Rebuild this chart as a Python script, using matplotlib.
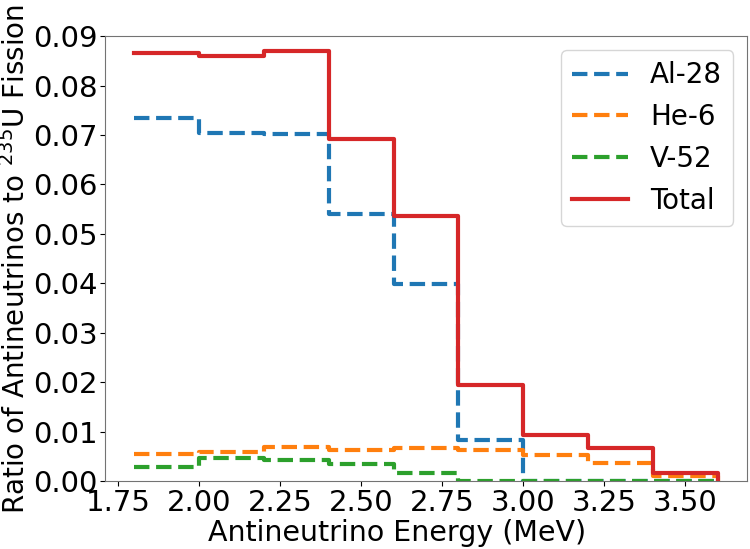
import matplotlib
matplotlib.use('Agg')
import matplotlib.pyplot as plt

# Bin edges (MeV) and per-bin ratios
edges = [1.8, 2.0, 2.2, 2.4, 2.6, 2.8, 3.0, 3.2, 3.4, 3.6]
al28 = [0.0735, 0.0705, 0.0702, 0.0540, 0.0398, 0.0083, 0.0, 0.0, 0.0]
he6 = [0.0055, 0.0058, 0.0069, 0.0063, 0.0066, 0.0062, 0.0052, 0.0037, 0.0009]
v52 = [0.0029, 0.0047, 0.0042, 0.0034, 0.0016, 0.0, 0.0, 0.0, 0.0]
total = [0.0866, 0.0861, 0.0870, 0.0692, 0.0536, 0.0194, 0.0093, 0.0067, 0.0017]

xticks = [1.75, 2.00, 2.25, 2.50, 2.75, 3.00, 3.25, 3.50]
yticks = [0.00, 0.01, 0.02, 0.03, 0.04, 0.05, 0.06, 0.07, 0.08, 0.09]

series = [
    ('Al-28', al28, '#1f77b4', '--'),
    ('He-6', he6, '#ff7f0e', '--'),
    ('V-52', v52, '#2ca02c', '--'),
    ('Total', total, '#d62728', '-'),
]

fig, ax = plt.subplots(figsize=(7.5, 5.49), dpi=100)

for label, vals, color, ls in series:
    # append a zero so the last bin drops back to the axis
    ax.step(edges, list(vals) + [0.0], where='post', color=color,
            linestyle=ls, linewidth=3, label=label)

ax.set_ylim(0, 0.09)
ax.set_xticks(xticks)
ax.set_xticklabels(['%.2f' % t for t in xticks])
ax.set_yticks(yticks)
ax.set_yticklabels(['%.2f' % t for t in yticks])
ax.set_xlabel('Antineutrino Energy (MeV)', fontsize=20.5, labelpad=1)
ax.xaxis.set_label_coords(0.455, -0.085)
ax.set_ylabel('Ratio of Antineutrinos to $^{235}$U Fission', fontsize=20, labelpad=1)
ax.tick_params(labelsize=21, pad=2)
for sp in ax.spines.values():
    sp.set_color('0.45')

ax.legend(loc='upper right', fontsize=20)

plt.subplots_adjust(left=0.14, right=0.996, bottom=0.124, top=0.934)
plt.savefig('out.png', dpi=100)
